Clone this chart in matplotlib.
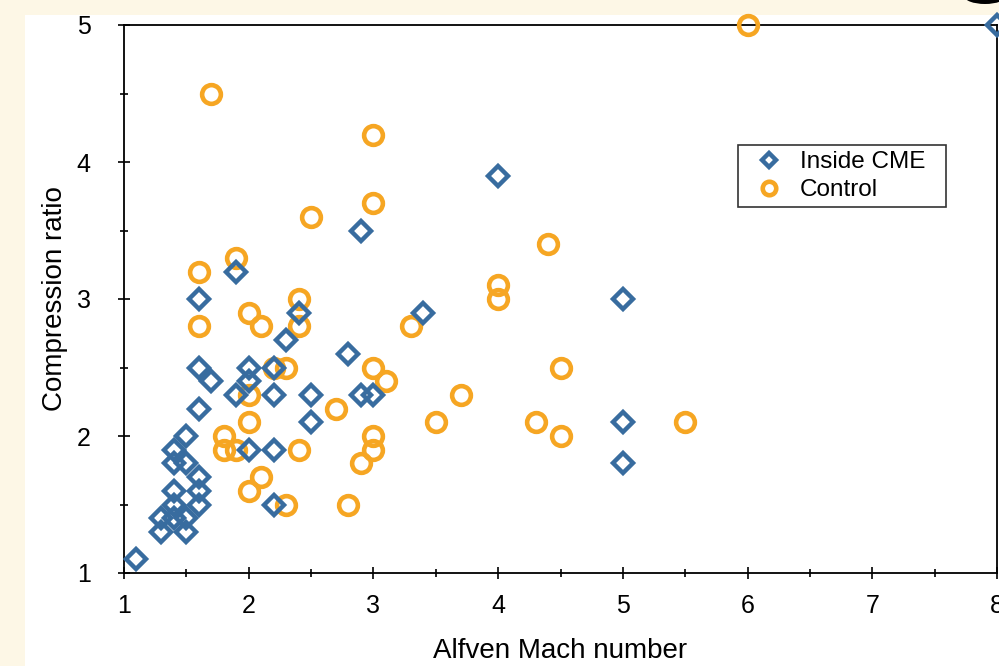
import matplotlib.pyplot as plt
from matplotlib.ticker import MultipleLocator
from matplotlib.patches import Rectangle, Ellipse

plt.rcParams['font.family'] = ['Liberation Sans', 'DejaVu Sans']

# Inside CME events
cme_mach = [1.1, 1.3, 1.3, 1.4, 1.4, 1.4, 1.4, 1.4, 1.5, 1.5, 1.5, 1.5,
            1.6, 1.6, 1.6, 1.6, 1.6, 1.6, 1.7, 1.9, 1.9, 2.0, 2.0, 2.0,
            2.2, 2.2, 2.2, 2.2, 2.3, 2.4, 2.5, 2.5, 2.8, 2.9, 2.9, 3.0,
            3.4, 4.0, 5.0, 5.0, 5.0, 8.0]
cme_ratio = [1.1, 1.3, 1.4, 1.4, 1.5, 1.6, 1.8, 1.9, 1.3, 1.4, 1.8, 2.0,
             1.5, 1.6, 1.7, 2.2, 2.5, 3.0, 2.4, 2.3, 3.2, 1.9, 2.4, 2.5,
             1.5, 1.9, 2.3, 2.5, 2.7, 2.9, 2.1, 2.3, 2.6, 2.3, 3.5, 2.3,
             2.9, 3.9, 1.8, 2.1, 3.0, 5.0]

# Control events
ctl_mach = [1.6, 1.6, 1.7, 1.8, 1.8, 1.9, 1.9, 2.0, 2.0, 2.0, 2.0, 2.1, 2.1,
            2.2, 2.3, 2.3, 2.4, 2.4, 2.4, 2.5, 2.7, 2.8, 2.9, 3.0, 3.0, 3.0,
            3.0, 3.0, 3.1, 3.3, 3.5, 3.7, 4.0, 4.0, 4.3, 4.4, 4.5, 4.5, 5.5,
            6.0]
ctl_ratio = [2.8, 3.2, 4.5, 1.9, 2.0, 1.9, 3.3, 1.6, 2.1, 2.3, 2.9, 1.7, 2.8,
             2.5, 1.5, 2.5, 1.9, 2.8, 3.0, 3.6, 2.2, 1.5, 1.8, 1.9, 2.0, 2.5,
             3.7, 4.2, 2.4, 2.8, 2.1, 2.3, 3.0, 3.1, 2.1, 3.4, 2.0, 2.5, 2.1,
             5.0]

blue = '#386C9F'
orange = '#F6A623'
cream = '#FDF7E6'

fig = plt.figure(figsize=(9.99, 6.66), dpi=100)
fig.patch.set_facecolor('white')
# slide border strips
fig.patches.append(Rectangle((0, 0), 25 / 999, 1, transform=fig.transFigure,
                             facecolor=cream, edgecolor='none', zorder=-5))
fig.patches.append(Rectangle((0, 1 - 15 / 666), 1, 15 / 666, transform=fig.transFigure,
                             facecolor=cream, edgecolor='none', zorder=-5))
fig.patches.append(Ellipse((985 / 999, 1 + 4 / 666), 42 / 999, 16 / 666,
                           transform=fig.transFigure, facecolor='black',
                           edgecolor='none', zorder=-4))

ax = fig.add_axes([124 / 999, 1 - 573 / 666, 873 / 999, 548 / 666])

ax.plot(ctl_mach, ctl_ratio, linestyle='none', marker='o', markersize=13.5,
        markerfacecolor='none', markeredgecolor=orange, markeredgewidth=3.3,
        label='Control', clip_on=False, zorder=3)
ax.plot(cme_mach, cme_ratio, linestyle='none', marker='D', markersize=10,
        markerfacecolor='none', markeredgecolor=blue, markeredgewidth=3.2,
        label='Inside CME', clip_on=False, zorder=4)

ax.set_xlim(1, 8)
ax.set_ylim(1, 5)
ax.xaxis.set_major_locator(MultipleLocator(1))
ax.xaxis.set_minor_locator(MultipleLocator(0.5))
ax.yaxis.set_major_locator(MultipleLocator(1))
ax.yaxis.set_minor_locator(MultipleLocator(0.5))
ax.tick_params(which='major', direction='inout', length=8, width=1.2,
               labelsize=18, pad=11, top=False, right=False)
ax.tick_params(which='minor', direction='inout', length=6, width=1.2,
               top=False, right=False)
ax.tick_params(axis='y', which='major', pad=20)
for sp in ax.spines.values():
    sp.set_linewidth(1.3)

ax.set_xlabel('Alfven Mach number', fontsize=20)
ax.set_ylabel('Compression ratio', fontsize=20)
ax.xaxis.set_label_coords(0.5, -0.118)
ax.yaxis.set_label_coords(-0.064, 0.5)

handles, labels = ax.get_legend_handles_labels()
leg = ax.legend(handles[::-1], labels[::-1], loc='upper left',
                bbox_to_anchor=(0.703, 0.5, 0.2383, 0.281), mode='expand',
                borderaxespad=0, fontsize=17.5, frameon=True, fancybox=False,
                edgecolor='black', labelspacing=0.25, handletextpad=0.2,
                borderpad=0.25, handlelength=2.1, markerscale=0.72)
leg.get_frame().set_linewidth(1.2)

fig.savefig('out.png', dpi=100)
